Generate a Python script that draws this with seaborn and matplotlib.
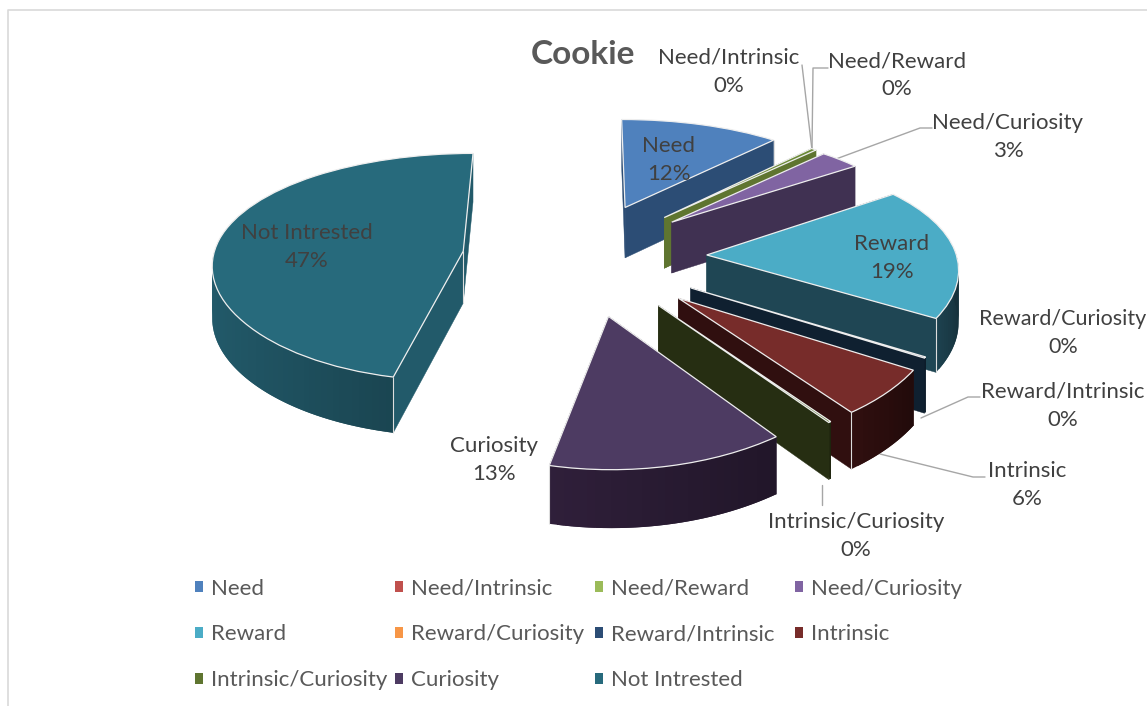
import numpy as np
import matplotlib
matplotlib.use("Agg")
import matplotlib.pyplot as plt
import seaborn as sns
from matplotlib.colors import to_rgb
from matplotlib.patches import Patch, Polygon
from matplotlib.transforms import Transform

categories = ["Need", "Need/Intrinsic", "Need/Reward", "Need/Curiosity", "Reward",
              "Reward/Curiosity", "Reward/Intrinsic", "Intrinsic",
              "Intrinsic/Curiosity", "Curiosity", "Not Intrested"]
values = [11.7, 0.0, 0.4, 3.0, 18.7, 0.0, 0.15, 6.0, 0.15, 13.4, 46.6]
percent_labels = ["12%", "0%", "0%", "3%", "19%", "0%", "0%", "6%", "0%", "13%", "47%"]
explode = [0.50, 0.50, 0.50, 0.49, 0.50, 0.50, 0.50, 0.51, 0.50, 0.50, 0.48]

top_colors = ["#4f81bd", "#c0504d", "#6b8a36", "#8064a2", "#4bacc6", "#f79646",
              "#2c4d75", "#772c2a", "#5f7530", "#4d3b62", "#276a7c"]
legend_colors = ["#4f81bd", "#c0504d", "#9bbb59", "#8064a2", "#4bacc6", "#f79646",
                 "#2c4d75", "#772c2a", "#5f7530", "#4d3b62", "#276a7c"]
side_colors = ["#2c4d75", "#6b2a28", "#5f7530", "#403152", "#1f4654", "#8a5020",
               "#0f2030", "#300f0f", "#262e12", "#2f1f3a", "#225a6a"]

sns.set_theme(style="white")
plt.rcParams["font.family"] = ["Lato", "DejaVu Sans"]

CX, CY, RX, RY, KX, KY, DEPTH = 582.0, 257.0, 250.0, 113.0, 0.09, 0.14, 52.0


def project(u, v, z=0.0):
    u, v = np.asarray(u, float), np.asarray(v, float)
    wy = 1.0 + KY * v
    return CX + RX * u / (1.0 + KX * v), CY - RY * v / wy + DEPTH * z / np.sqrt(wy)


class Perspective(Transform):
    input_dims = output_dims = 2

    def transform_non_affine(self, values):
        x, y = project(values[:, 0], values[:, 1])
        return np.column_stack([x, y])


fig = plt.figure(figsize=(11.47, 7.06), dpi=100)
ax = fig.add_axes([0, 0, 1, 1])
wedges, _ = ax.pie(values, explode=explode, colors=top_colors, startangle=90,
                   counterclock=False, radius=1.0,
                   wedgeprops=dict(edgecolor="#eeeeee", linewidth=0.9))
ax.set_aspect("auto")
ax.set_xlim(0, 1147)
ax.set_ylim(706, 0)
ax.axis("off")
persp = Perspective() + ax.transData


def shaded(color, f):
    return tuple(min(1, c * f) for c in to_rgb(color))


for i, w in enumerate(wedges):
    if values[i] == 0:
        w.set_visible(False)
        continue
    z0 = 10 + 4 * i
    if categories[i] == "Not Intrested":
        z0 = 5
    cu, cv = w.center
    w.set_transform(persp)
    w.set_zorder(z0 + 3)
    th = np.radians(np.linspace(w.theta1, w.theta2, max(8, int((w.theta2 - w.theta1) / 1.5))))
    au, av = cu + np.cos(th), cv + np.sin(th)
    # radial cut faces
    for e in (0, -1):
        xa, ya = project(cu, cv)
        xb, yb = project(au[e], av[e])
        xc, yc = project(au[e], av[e], 1)
        xd, yd = project(cu, cv, 1)
        ax.add_patch(Polygon([[xa, ya], [xb, yb], [xc, yc], [xd, yd]], closed=True,
                             facecolor=side_colors[i], edgecolor=side_colors[i],
                             linewidth=0.3, zorder=z0))
    # outer rim: only the part that faces the viewer, shaded from left to right
    xt, yt = project(au, av)
    xb, yb = project(au, av, 1)
    front = np.sin(th) < 0.02
    span = max(np.ptp(au), 1e-6)
    for j in range(len(th) - 1):
        if not front[j]:
            continue
        f = 1.0 - 0.3 * (au[j] - au.min()) / span
        c = shaded(side_colors[i], f)
        k = min(j + 2, len(th) - 1)
        ax.add_patch(Polygon([[xt[j], yt[j]], [xt[k], yt[k]], [xb[k], yb[k]], [xb[j], yb[j]]],
                             closed=True, facecolor=c, edgecolor="none", linewidth=0,
                             zorder=z0 + 1 + j * 1e-4))
    # light edge at the front corner of the larger slices
    if values[i] > 5:
        e = 0 if yt[0] > yt[-1] else -1
        ax.plot([xt[e], xb[e]], [yt[e], yb[e]], color="#dddddd", lw=0.8, zorder=z0 + 2,
                solid_capstyle="butt")
    if values[i] > 40:
        xa, ya = project(cu, cv)
        xd, yd = project(cu, cv, 1)
        ax.plot([xa, xd], [ya, yd], color="#dddddd", lw=0.8, zorder=z0 + 2, solid_capstyle="butt")

# chart area border
ax.plot([8, 8, 1147], [706, 10, 10], color="#d9d9d9", lw=1.2, zorder=1)

# leader lines
leaders = [([802, 812], [65, 150]),
           ([812, 813, 828], [150, 68, 68]),
           ([836, 920, 932], [159, 128, 128]),
           ([921, 968, 980], [418, 397, 397]),
           ([880, 973, 985], [454, 477, 477]),
           ([822, 822], [485, 505])]
for lx, ly in leaders:
    ax.plot(lx, ly, color="#a6a6a6", lw=1.0, zorder=2)

TEXT = "#404040"
label_pos = {"Need": (669, 160), "Need/Intrinsic": (729, 72), "Need/Reward": (897, 75),
             "Need/Curiosity": (1008, 137), "Reward": (892, 258),
             "Reward/Curiosity": (1063, 333), "Reward/Intrinsic": (1063, 406),
             "Intrinsic": (1027, 485), "Intrinsic/Curiosity": (856, 536),
             "Curiosity": (494, 460), "Not Intrested": (307, 247)}
for name, pct in zip(categories, percent_labels):
    x, y = label_pos[name]
    size = 15.5 if name == "Reward/Curiosity" else 16
    ax.text(x, y, f"{name}\n{pct}", ha="center", va="center", fontsize=size,
            color=TEXT, linespacing=1.5, zorder=100)

ax.text(583, 54, "Cookie", ha="center", va="center", fontsize=24, fontweight="bold",
        color="#595959", zorder=100)

# legend, four evenly spaced columns filled row by row
col_x = [188, 388, 588, 788]
for c, left in enumerate(col_x):
    idx = list(range(c, len(categories), 4))
    handles = [Patch(facecolor=legend_colors[i], edgecolor="none", label=categories[i]) for i in idx]
    leg = ax.legend(handles=handles, loc="upper left", bbox_to_anchor=(left, 572),
                    bbox_transform=ax.transData, frameon=False, fontsize=16,
                    labelcolor="#595959", handlelength=0.36, handleheight=0.36,
                    handletextpad=0.36, labelspacing=1.16, borderpad=0.3, borderaxespad=0)
    leg.set_zorder(100)
    if c < len(col_x) - 1:
        ax.add_artist(leg)

fig.savefig("out.png", dpi=100, facecolor="white")
